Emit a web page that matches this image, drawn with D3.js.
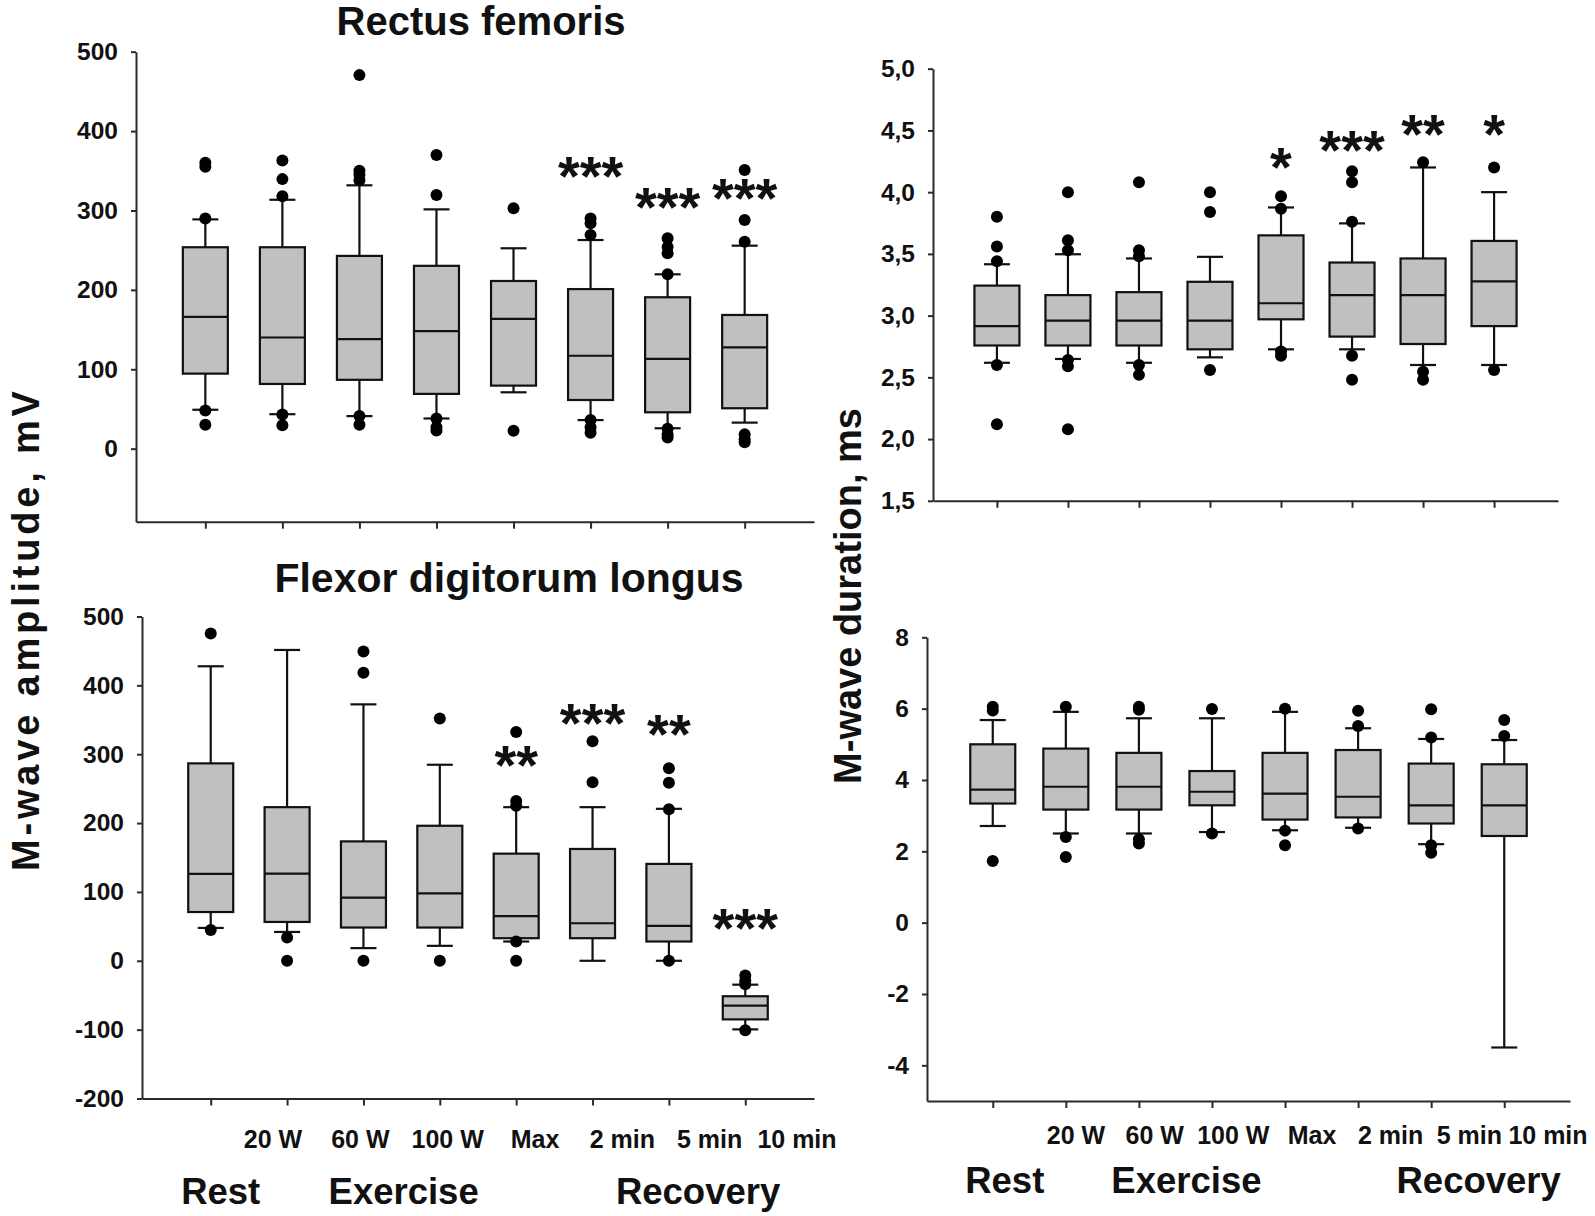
<!DOCTYPE html>
<html><head><meta charset="utf-8">
<script src="https://cdn.jsdelivr.net/npm/d3@7"></script>
<style>
body{margin:0;background:#fff}
svg{display:block}
text{font-family:"Liberation Sans",Arial,Helvetica,sans-serif;font-weight:bold;fill:#111}
</style>
</head><body>
<svg id="chart" width="1595" height="1216"></svg>
<script>
// ---------- data ----------
const categories = ["Rest","20 W","60 W","100 W","Max","2 min","5 min","10 min"];
const xTickLabels = ["20 W","60 W","100 W","Max","2 min","5 min","10 min"];
const groupLabels = ["Rest","Exercise","Recovery"];

const ampTicksTop = [0,100,200,300,400,500];
const ampTicksBottom = [-200,-100,0,100,200,300,400,500];
const durTicksTop = [1.5,2.0,2.5,3.0,3.5,4.0,4.5,5.0];
const durTicksBottom = [-4,-2,0,2,4,6,8];

// Rectus femoris – M-wave amplitude
const rfAmpLow    = [49, 43.4, 41, 38, 71, 36, 25.7, 32.8];
const rfAmpQ1     = [94.5, 81.5, 86.7, 69, 79.4, 61.3, 45.8, 50.9];
const rfAmpMedian = [166, 140, 138, 148, 163.4, 117, 113, 127.7];
const rfAmpQ3     = [253.7, 253.7, 242.8, 230.3, 211.2, 201, 190.7, 168.4];
const rfAmpHigh   = [288.8, 313.5, 331.7, 301.4, 252.4, 262.8, 219.6, 255.7];
const rfAmpOutliers = [[360,355,290,48,30],[363,339.5,318,43,29.5],[470.5,350,345,338,41,30],[370,319.6,38,27,23],[302.8,22.7],[290,284,269,36,27,20],[265,254,246,219.6,25,18,14],[351,288,260.7,18,12,8]];
const rfAmpStars  = ["","","","","","***","***","***"];
const rfAmpStarAt = [null,null,null,null,null,359,319.5,331];

// Rectus femoris – M-wave duration
const rfDurLow    = [2.618, 2.649, 2.618, 2.662, 2.727, 2.727, 2.60, 2.60];
const rfDurQ1     = [2.758, 2.758, 2.758, 2.727, 2.97, 2.83, 2.77, 2.915];
const rfDurMedian = [2.915, 2.96, 2.96, 2.96, 3.10, 3.166, 3.166, 3.277];
const rfDurQ3     = [3.243, 3.166, 3.19, 3.274, 3.65, 3.43, 3.463, 3.605];
const rfDurHigh   = [3.416, 3.497, 3.463, 3.476, 3.876, 3.747, 4.2, 4.0];
const rfDurOutliers = [[3.80,3.56,3.44,2.60,2.12],[4.0,3.61,3.53,2.64,2.59,2.08],[4.08,3.53,3.48,2.60,2.52],[4.0,3.84,2.56],[3.967,3.866,2.71,2.675],[4.17,4.08,3.76,2.675,2.48],[4.243,2.546,2.48],[4.2,2.56]];
const rfDurStars  = ["","","","","*","***","**","*"];
const rfDurStarAt = [null,null,null,null,4.30,4.44,4.57,4.57];

// Flexor digitorum longus – M-wave amplitude
const fdlAmpLow    = [47.7, 41.9, 18.4, 21.7, 28, 0, 0, -99.6];
const fdlAmpQ1     = [70.8, 56.4, 48.3, 48.3, 32.8, 32.8, 28, -85.1];
const fdlAmpMedian = [126.3, 126.7, 91.6, 97.8, 65, 54.5, 50.6, -65];
const fdlAmpQ3     = [286.7, 223.1, 173.4, 196.1, 155.6, 162.4, 140.7, -51.5];
const fdlAmpHigh   = [427.7, 451.4, 372.4, 284.7, 223.1, 223.1, 220.7, -34.7];
const fdlAmpOutliers = [[475.4,44.8],[33.8,0],[449,418.2,0],[351.7,0],[332.4,232.2,225,28,0],[318.9,259.2],[279.5,258.7,220,0],[-21.5,-28.9,-34,-101]];
const fdlAmpStars  = ["","","","","**","***","**","***"];
const fdlAmpStarAt = [null,null,null,null,303,363,348,65];

// Flexor digitorum longus – M-wave duration
const fdlDurLow    = [2.71, 2.5, 2.5, 2.54, 2.59, 2.66, 2.2, -3.5];
const fdlDurQ1     = [3.34, 3.17, 3.17, 3.29, 2.89, 2.95, 2.78, 2.43];
const fdlDurMedian = [3.73, 3.81, 3.81, 3.67, 3.62, 3.53, 3.29, 3.29];
const fdlDurQ3     = [5.0, 4.88, 4.76, 4.25, 4.76, 4.84, 4.46, 4.44];
const fdlDurHigh   = [5.68, 5.91, 5.73, 5.73, 5.91, 5.45, 5.15, 5.12];
const fdlDurOutliers = [[6.05,5.95,1.73],[6.05,2.40,1.84],[6.05,5.97,2.34,2.22],[5.99,2.5],[6.0,2.58,2.17],[5.94,5.51,2.64],[5.98,5.19,2.17,1.96],[5.68,5.23]];
const fdlDurStars  = ["","","","","","","",""];
const fdlDurStarAt = [null,null,null,null,null,null,null,null];

// ---------- drawing ----------
const svg = d3.select("#chart");
const commaFmt = d => d3.format(".1f")(d).replace(".", ",");
const intFmt = d => String(d);   // plain hyphen-minus like the original

const BOX_W = 45, CAP_W = 26, DOT_R = 6, STAR_SIZE = 56;

function drawPanel(p) {
  const x = d3.scalePoint().domain(categories).range([p.x0, p.x1]).padding(0.9);
  const y = d3.scaleLinear().domain(p.domain).range([p.yB, p.yT]);
  const g = svg.append("g");

  const ya = g.append("g").attr("transform", `translate(${p.x0},0)`)
    .call(d3.axisLeft(y).tickValues(p.ticks).tickFormat(p.fmt).tickSize(5).tickSizeOuter(0).tickPadding(13));
  const xa = g.append("g").attr("transform", `translate(0,${p.yB})`)
    .call(d3.axisBottom(x).tickFormat("").tickSize(7).tickSizeOuter(0));
  [ya, xa].forEach(a => {
    a.select(".domain").attr("stroke", "#2a2a2a").attr("stroke-width", 2);
    a.selectAll(".tick line").attr("stroke", "#2a2a2a").attr("stroke-width", 2);
  });
  ya.selectAll(".tick text").attr("font-size", 24.5).attr("fill", "#222")
    .attr("font-family", '"Liberation Sans",Arial,sans-serif').attr("font-weight", "bold");

  const rows = categories.map((c, i) => ({
    c, lo: p.low[i], q1: p.q1[i], med: p.med[i], q3: p.q3[i], hi: p.high[i],
    out: p.out[i], star: p.stars[i], starAt: p.starAt[i]
  }));

  const box = g.selectAll("g.box").data(rows).enter().append("g").attr("class", "box")
    .attr("transform", d => `translate(${x(d.c)},0)`);
  const stroke = "#111", sw = 2.2;
  box.append("line").attr("x1", 0).attr("x2", 0).attr("y1", d => y(d.lo)).attr("y2", d => y(d.hi))
    .attr("stroke", stroke).attr("stroke-width", sw);
  box.append("line").attr("x1", -CAP_W/2).attr("x2", CAP_W/2).attr("y1", d => y(d.hi)).attr("y2", d => y(d.hi))
    .attr("stroke", stroke).attr("stroke-width", sw);
  box.append("line").attr("x1", -CAP_W/2).attr("x2", CAP_W/2).attr("y1", d => y(d.lo)).attr("y2", d => y(d.lo))
    .attr("stroke", stroke).attr("stroke-width", sw);
  box.append("rect").attr("x", -BOX_W/2).attr("width", BOX_W)
    .attr("y", d => y(d.q3)).attr("height", d => y(d.q1) - y(d.q3))
    .attr("fill", "#c0c0c0").attr("stroke", stroke).attr("stroke-width", sw);
  box.append("line").attr("x1", -BOX_W/2).attr("x2", BOX_W/2).attr("y1", d => y(d.med)).attr("y2", d => y(d.med))
    .attr("stroke", stroke).attr("stroke-width", sw);
  box.selectAll("circle").data(d => d.out).enter().append("circle")
    .attr("cx", 0).attr("cy", v => y(v)).attr("r", DOT_R).attr("fill", "#000");
  box.filter(d => d.star).append("text")
    .attr("text-anchor", "middle").attr("font-size", STAR_SIZE)
    .attr("y", d => y(d.starAt) + STAR_SIZE * 0.56)
    .text(d => d.star);

  if (p.title) {
    g.append("text").attr("x", p.titleX).attr("y", p.titleY).attr("text-anchor", "middle")
      .attr("font-size", p.titleSize).text(p.title);
  }
  if (p.tickLabelRange) {
    const lx = d3.scalePoint().domain(xTickLabels).range(p.tickLabelRange);
    g.selectAll("text.xl").data(xTickLabels).enter().append("text").attr("class", "xl")
      .attr("x", d => lx(d)).attr("y", p.tickLabelY).attr("text-anchor", "middle")
      .attr("font-size", 25).attr("fill", "#222").text(d => d);
    const anchors = [["Rest"], ["60 W", "100 W"], ["5 min", "10 min"]];
    g.selectAll("text.gl").data(groupLabels).enter().append("text").attr("class", "gl")
      .attr("x", (d, i) => d3.mean(anchors[i], a => x(a)) + p.groupDx[i])
      .attr("y", p.groupY).attr("text-anchor", "middle").attr("font-size", 36.5).text(d => d);
  }
}

drawPanel({x0:136, x1:814, yT:51.7, yB:521.7, domain:[-92,500], ticks:ampTicksTop, fmt:intFmt,
  low:rfAmpLow, q1:rfAmpQ1, med:rfAmpMedian, q3:rfAmpQ3, high:rfAmpHigh, out:rfAmpOutliers,
  stars:rfAmpStars, starAt:rfAmpStarAt, title:"Rectus femoris", titleX:481, titleY:35, titleSize:40});
drawPanel({x0:933, x1:1558, yT:68.7, yB:500.8, domain:[1.5,5.0], ticks:durTicksTop, fmt:commaFmt,
  low:rfDurLow, q1:rfDurQ1, med:rfDurMedian, q3:rfDurQ3, high:rfDurHigh, out:rfDurOutliers,
  stars:rfDurStars, starAt:rfDurStarAt});
drawPanel({x0:142, x1:814, yT:616.5, yB:1098.5, domain:[-200,500], ticks:ampTicksBottom, fmt:intFmt,
  low:fdlAmpLow, q1:fdlAmpQ1, med:fdlAmpMedian, q3:fdlAmpQ3, high:fdlAmpHigh, out:fdlAmpOutliers,
  stars:fdlAmpStars, starAt:fdlAmpStarAt, title:"Flexor digitorum longus", titleX:509, titleY:592, titleSize:41,
  tickLabelRange:[273,797], tickLabelY:1148, groupY:1204, groupDx:[10,2,-9]});
drawPanel({x0:927, x1:1570, yT:637.3, yB:1101, domain:[-5,8], ticks:durTicksBottom, fmt:intFmt,
  low:fdlDurLow, q1:fdlDurQ1, med:fdlDurMedian, q3:fdlDurQ3, high:fdlDurHigh, out:fdlDurOutliers,
  stars:fdlDurStars, starAt:fdlDurStarAt,
  tickLabelRange:[1076,1548], tickLabelY:1144, groupY:1193, groupDx:[12,11,11]});

// shared axis titles
svg.append("text").attr("transform", "translate(39,631) rotate(-90)").attr("text-anchor", "middle")
  .attr("font-size", 38).attr("textLength", 480).attr("lengthAdjust", "spacing")
  .text("M-wave amplitude, mV");
svg.append("text").attr("transform", "translate(861,596) rotate(-90)").attr("text-anchor", "middle")
  .attr("font-size", 38).text("M-wave duration, ms");
</script>
</body></html>
